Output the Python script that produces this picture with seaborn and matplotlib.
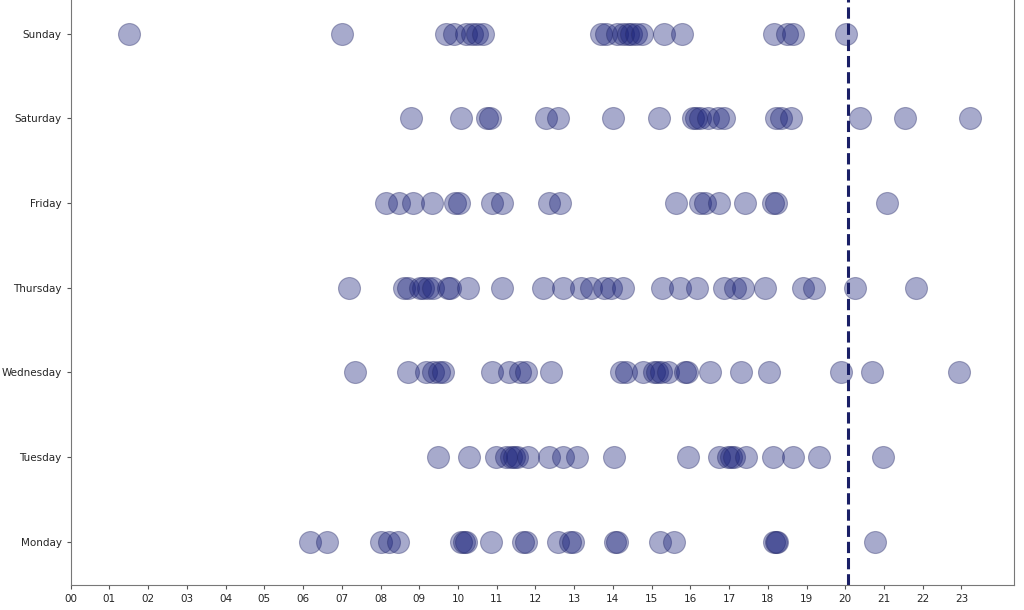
import numpy as np
import pandas as pd
import matplotlib
matplotlib.use('Agg')
import matplotlib.pyplot as plt
import seaborn as sns


days = ['Monday', 'Tuesday', 'Wednesday', 'Thursday', 'Friday', 'Saturday', 'Sunday']

monday = [6.19, 6.62, 8.01, 8.22, 8.44, 10.08, 10.15, 10.22, 10.85, 11.68, 11.76,
          12.58, 12.88, 12.98, 14.05, 14.10, 15.22, 15.58, 18.17, 18.22, 18.25, 20.76]
tuesday = [9.48, 10.28, 10.99, 11.25, 11.38, 11.45, 11.52, 11.80, 12.35, 12.71, 13.08,
           14.02, 15.93, 16.75, 16.97, 17.05, 17.12, 17.44, 18.13, 18.65, 19.33, 20.98]
wednesday = [7.33, 8.71, 9.18, 9.35, 9.51, 9.61, 10.88, 11.33, 11.59, 11.76, 12.41,
             14.21, 14.35, 14.77, 15.05, 15.15, 15.25, 15.42, 15.85, 15.92, 16.51,
             17.31, 18.02, 19.88, 20.69, 22.93]
thursday = [7.18, 8.60, 8.71, 9.01, 9.10, 9.22, 9.35, 9.74, 9.80, 10.27, 11.13, 12.19,
            12.71, 13.18, 13.44, 13.78, 13.96, 14.26, 15.27, 15.72, 16.17, 16.88,
            17.14, 17.35, 17.94, 18.90, 19.20, 20.24, 21.83]
friday = [8.15, 8.49, 8.84, 9.34, 9.92, 10.02, 10.89, 11.14, 12.36, 12.64, 15.62,
          16.24, 16.37, 16.73, 17.40, 18.14, 18.20, 21.08]
saturday = [8.80, 10.08, 10.75, 10.83, 12.28, 12.58, 14.00, 15.20, 16.08, 16.15,
            16.24, 16.45, 16.71, 16.88, 18.22, 18.34, 18.60, 20.38, 21.55, 23.22]
sunday = [1.51, 7.01, 9.70, 9.89, 10.21, 10.37, 10.49, 10.64, 13.70, 13.83, 14.10,
          14.27, 14.39, 14.47, 14.60, 14.76, 15.33, 15.78, 18.17, 18.49, 18.64, 20.02]

hour_labels = ['%02d' % h for h in range(24)]
cutoff_hour = 20.07

records = []
for i, times in enumerate([monday, tuesday, wednesday, thursday, friday, saturday, sunday]):
    for t in times:
        records.append({'day': days[i], 'day_idx': i, 'hour': t})
df = pd.DataFrame(records)

sns.set_style('ticks')
plt.rcParams['font.family'] = ['DejaVu Sans']

fig = plt.figure(figsize=(10.24, 6.10), dpi=100)
ax = fig.add_axes([0.069, 0.041, 0.921, 0.962])

sns.scatterplot(data=df, x='hour', y='day_idx', s=250, color='#18207a', alpha=0.38,
                edgecolor='#262a66', linewidth=0.8, ax=ax, legend=False)
ax.axvline(cutoff_hour, color='#1a1f66', linestyle='--', linewidth=2.2)

ax.set_xlim(0, 24.35)
ax.set_ylim(-0.51, 6.42)
ax.set_xticks(range(24))
ax.set_xticklabels(hour_labels, fontsize=7.5)
ax.set_yticks(range(7))
ax.set_yticklabels(days, fontsize=7.5)
ax.set_xlabel('')
ax.set_ylabel('')
ax.tick_params(length=3, color='#555555')
for s in ['left', 'bottom', 'right']:
    ax.spines[s].set_color('#777777')
ax.spines['top'].set_visible(False)

fig.savefig('out.png', dpi=100)
